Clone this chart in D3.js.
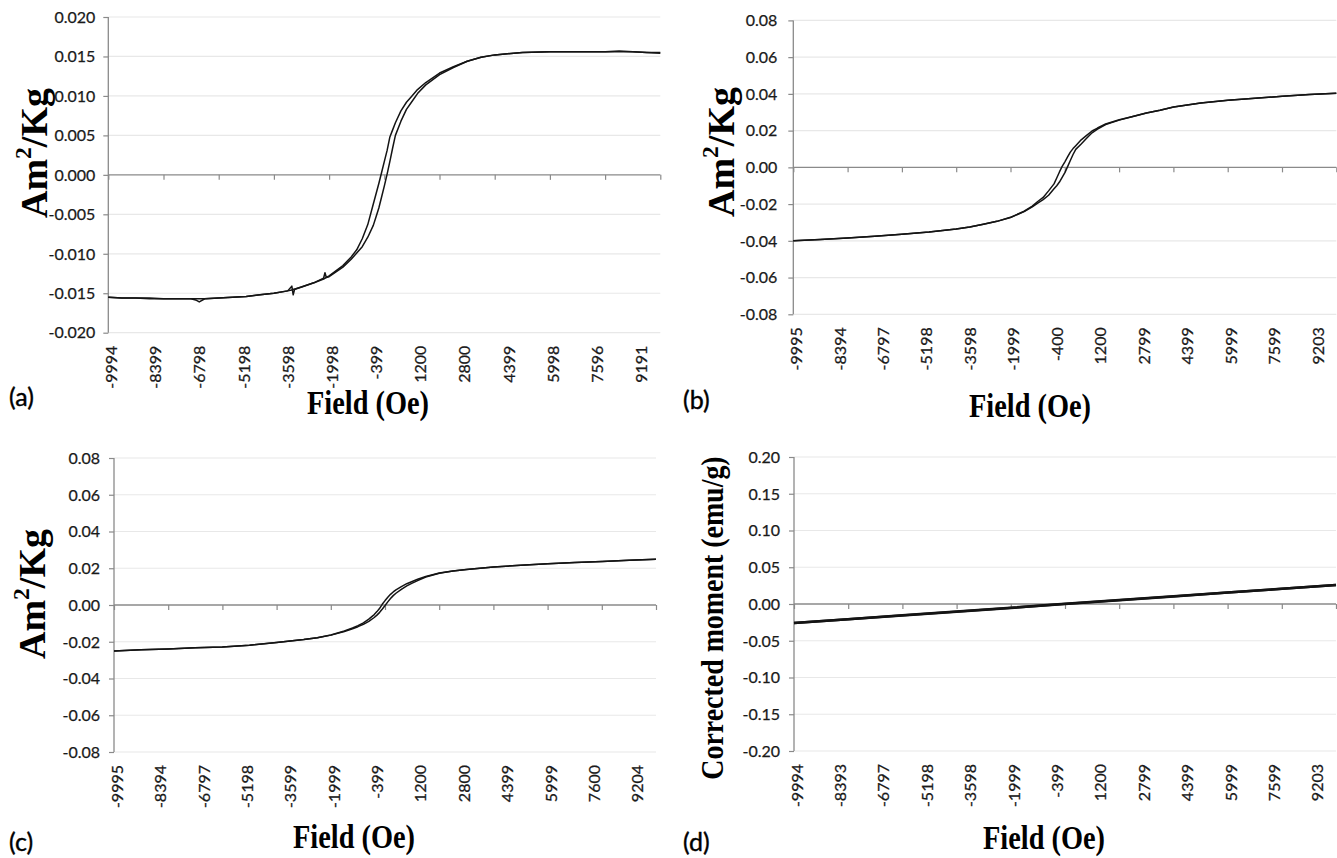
<!DOCTYPE html>
<html>
<head>
<meta charset="utf-8">
<script src="https://cdn.jsdelivr.net/npm/d3@7"></script>
<style>
  html, body { margin: 0; padding: 0; background: #fff; }
  svg { display: block; }
  .tick-label { font-family: Lato, "Liberation Sans", sans-serif; font-size: 16px; fill: #1a1a1a; stroke: #1a1a1a; stroke-width: 0.25px; }
  .axis-title { font-family: "Liberation Serif", "Times New Roman", serif; font-weight: bold; fill: #000; }
  .panel-tag { font-family: Lato, "Liberation Sans", sans-serif; font-size: 25px; fill: #000; stroke: #000; stroke-width: 0.4px; }
</style>
</head>
<body>
<svg id="fig" width="1337" height="858"></svg>
<script>
// ---------------- Panel (a) ----------------
const fieldA = [-9994, -9500, -9000, -8500, -8000, -7500, -7000, -6800, -6700, -6500, -6000, -5500, -5000, -4500,
  -4000, -3500, -3350, -3300, -3250, -3000, -2500, -2200, -2150, -2100, -2000, -1500, -1200, -1000, -800, -600,
  -400, -300, -200, -100, 0, 100, 200, 300, 400, 600, 800, 1000, 1200, 1500, 2000, 2500, 3000, 3500, 4000,
  5000, 6000, 7000, 8000, 8500, 9000, 9500, 9990];
const descA = [-0.0155, -0.0156, -0.0156, -0.0157, -0.0157, -0.0157, -0.0157, -0.0157, -0.0157, -0.0157, -0.0156,
  -0.0155, -0.0154, -0.0152, -0.0150, -0.0147, -0.0146, -0.0145, -0.0145, -0.0142, -0.0136, -0.0132, -0.0131,
  -0.0130, -0.0128, -0.0115, -0.0104, -0.0095, -0.0081, -0.0063, -0.0037, -0.0024, -0.0011, 0.0003, 0.0017,
  0.0031, 0.0048, 0.0057, 0.0066, 0.0081, 0.0092, 0.0100, 0.0108, 0.0117, 0.0129, 0.0137, 0.0144, 0.0149,
  0.0152, 0.0155, 0.0156, 0.0156, 0.0156, 0.0156, 0.0156, 0.0155, 0.0155];
const ascA = [-0.0155, -0.0156, -0.0156, -0.0156, -0.0157, -0.0157, -0.0157, -0.0159, -0.0161, -0.0157, -0.0156,
  -0.0155, -0.0154, -0.0152, -0.0150, -0.0147, -0.0141, -0.0152, -0.0145, -0.0142, -0.0136, -0.0131, -0.0124,
  -0.0130, -0.0129, -0.0117, -0.0107, -0.0099, -0.0091, -0.0079, -0.0064, -0.0053, -0.0042, -0.0028, -0.0014,
  0.0001, 0.0017, 0.0034, 0.0050, 0.0068, 0.0083, 0.0093, 0.0103, 0.0114, 0.0127, 0.0136, 0.0144, 0.0149,
  0.0152, 0.0155, 0.0156, 0.0156, 0.0156, 0.0157, 0.0156, 0.0155, 0.0154];
const xLabelsA = [-9994, -8399, -6798, -5198, -3598, -1998, -399, 1200, 2800, 4399, 5998, 7596, 9191];
const yTicksA = [-0.020, -0.015, -0.010, -0.005, 0, 0.005, 0.010, 0.015, 0.020];

// ---------------- Panel (b) ----------------
const fieldB = [-9995, -9000, -8000, -7000, -6000, -5000, -4000, -3500, -3000, -2500, -2000, -1500, -1200, -1000,
  -800, -600, -400, -300, -200, -100, 0, 100, 200, 300, 400, 600, 800, 1000, 1200, 1500, 2000, 2500, 3000,
  3500, 4000, 5000, 6000, 7000, 8000, 9000, 9989];
const descB = [-0.0400, -0.0393, -0.0385, -0.0375, -0.0364, -0.0352, -0.0336, -0.0325, -0.0310, -0.0294, -0.0272,
  -0.0239, -0.0211, -0.0186, -0.0164, -0.0128, -0.0090, -0.0058, -0.0025, 0.0005, 0.0030, 0.0057, 0.0083,
  0.0102, 0.0118, 0.0150, 0.0174, 0.0198, 0.0214, 0.0236, 0.0259, 0.0277, 0.0296, 0.0311, 0.0328, 0.0350,
  0.0365, 0.0376, 0.0387, 0.0396, 0.0404];
const ascB = [-0.0400, -0.0393, -0.0385, -0.0375, -0.0364, -0.0352, -0.0336, -0.0325, -0.0310, -0.0294, -0.0273,
  -0.0241, -0.0215, -0.0195, -0.0176, -0.0152, -0.0117, -0.0100, -0.0080, -0.0055, -0.0029, 0.0004, 0.0037,
  0.0070, 0.0098, 0.0127, 0.0158, 0.0188, 0.0208, 0.0233, 0.0257, 0.0277, 0.0296, 0.0311, 0.0328, 0.0350,
  0.0365, 0.0376, 0.0387, 0.0396, 0.0404];
const xLabelsB = [-9995, -8394, -6797, -5198, -3598, -1999, -400, 1200, 2799, 4399, 5999, 7599, 9203];
const yTicksB = [-0.08, -0.06, -0.04, -0.02, 0, 0.02, 0.04, 0.06, 0.08];

// ---------------- Panel (c) ----------------
const fieldC = [-9995, -9000, -8000, -7000, -6000, -5000, -4000, -3000, -2500, -2000, -1500, -1200, -1000, -800,
  -600, -400, -300, -200, -100, 0, 100, 200, 300, 400, 600, 800, 1000, 1200, 1500, 2000, 2500, 3000, 4000,
  5000, 6000, 7000, 8000, 9000, 9989];
const descC = [-0.0250, -0.0244, -0.0239, -0.0233, -0.0228, -0.0219, -0.0204, -0.0188, -0.0178, -0.0163, -0.0141,
  -0.0125, -0.0112, -0.0097, -0.0077, -0.0052, -0.0036, -0.0018, 0.0005, 0.0024, 0.0042, 0.0058, 0.0071,
  0.0082, 0.0100, 0.0116, 0.0128, 0.0140, 0.0155, 0.0174, 0.0185, 0.0193, 0.0207, 0.0216, 0.0224, 0.0231,
  0.0237, 0.0243, 0.0249];
const ascC = [-0.0250, -0.0244, -0.0239, -0.0233, -0.0228, -0.0219, -0.0204, -0.0188, -0.0178, -0.0164, -0.0144,
  -0.0129, -0.0118, -0.0105, -0.0089, -0.0068, -0.0055, -0.0040, -0.0022, -0.0003, 0.0017, 0.0035, 0.0051,
  0.0064, 0.0085, 0.0104, 0.0119, 0.0133, 0.0152, 0.0173, 0.0185, 0.0193, 0.0207, 0.0216, 0.0224, 0.0231,
  0.0237, 0.0243, 0.0249];
const xLabelsC = [-9995, -8394, -6797, -5198, -3599, -1999, -399, 1200, 2800, 4399, 5999, 7600, 9204];
const yTicksC = [-0.08, -0.06, -0.04, -0.02, 0, 0.02, 0.04, 0.06, 0.08];

// ---------------- Panel (d) ----------------
const fieldD = [-9994, -8000, -6000, -4000, -2000, 0, 2000, 4000, 6000, 8000, 9990];
const descD = [-0.0257, -0.0206, -0.0154, -0.0103, -0.0051, 0.0002, 0.0053, 0.0105, 0.0157, 0.0208, 0.0259];
const ascD = [-0.0259, -0.0208, -0.0156, -0.0105, -0.0053, 0.0000, 0.0051, 0.0103, 0.0155, 0.0206, 0.0257];
const xLabelsD = [-9994, -8393, -6797, -5198, -3598, -1999, -399, 1200, 2799, 4399, 5999, 7599, 9203];
const yTicksD = [-0.20, -0.15, -0.10, -0.05, 0, 0.05, 0.10, 0.15, 0.20];

// Field spacing between category tick marks on every horizontal axis
const TICK_STEP = 1998.4;
const TICK_COUNT = 10;

const locale = d3.formatLocale({ decimal: ".", thousands: ",", grouping: [3], currency: ["", ""], minus: "-" });

// Layout and styling of each panel
const panels = [
  { tag: "(a)", field: fieldA, branches: [descA, ascA], xLabels: xLabelsA, yTicks: yTicksA, fmt: ".3f",
    box: { left: 108.3, right: 660.3, top: 17, bottom: 332.7 }, yLabelGap: 13,
    yTitle: "am", yTitleX: 47, yTitleY: 153, yTitleSize: 38, yTitleStretch: 1,
    xTitleX: 368, xTitleY: 414, tagX: 9, tagY: 406, lineWidth: 1.5 },
  { tag: "(b)", field: fieldB, branches: [descB, ascB], xLabels: xLabelsB, yTicks: yTicksB, fmt: ".2f",
    box: { left: 793.3, right: 1336.3, top: 20.4, bottom: 314.3 }, yLabelGap: 16,
    yTitle: "am", yTitleX: 734, yTitleY: 152, yTitleSize: 38, yTitleStretch: 1,
    xTitleX: 1030, xTitleY: 417, tagX: 683, tagY: 409, lineWidth: 1.5 },
  { tag: "(c)", field: fieldC, branches: [descC, ascC], xLabels: xLabelsC, yTicks: yTicksC, fmt: ".2f",
    box: { left: 114, right: 656, top: 458, bottom: 752 }, yLabelGap: 14,
    yTitle: "am", yTitleX: 45, yTitleY: 594, yTitleSize: 38, yTitleStretch: 1,
    xTitleX: 354, xTitleY: 848, tagX: 9, tagY: 851, lineWidth: 1.5 },
  { tag: "(d)", field: fieldD, branches: [descD, ascD], xLabels: xLabelsD, yTicks: yTicksD, fmt: ".2f",
    box: { left: 794, right: 1336, top: 457, bottom: 751 }, yLabelGap: 14,
    yTitle: "Corrected moment (emu/g)", yTitleX: 723, yTitleY: 618, yTitleSize: 31, yTitleStretch: 0.9,
    xTitleX: 1044, xTitleY: 849, tagX: 683, tagY: 851, lineWidth: 2.5 }
];

const svg = d3.select("#fig");
const AXIS_COLOR = "#8a8a8a";
const GRID_COLOR = "#e8e8e8";

panels.forEach(p => {
  const b = p.box;
  const xMin = p.xLabels[0];
  const x = d3.scaleLinear().domain([xMin, xMin + TICK_STEP * TICK_COUNT]).range([b.left, b.right]);
  const y = d3.scaleLinear().domain(d3.extent(p.yTicks)).range([b.bottom, b.top]);
  const g = svg.append("g");
  const fmt = locale.format(p.fmt);

  // horizontal gridlines
  g.selectAll(".grid").data(p.yTicks.filter(t => t !== 0)).enter().append("line")
    .attr("x1", b.left).attr("x2", b.right)
    .attr("y1", d => y(d)).attr("y2", d => y(d))
    .attr("stroke", GRID_COLOR).attr("stroke-width", 1.2);

  // vertical axis with outward ticks
  const yAxis = d3.axisLeft(y).tickValues(p.yTicks).tickSize(5).tickFormat("");
  const ya = g.append("g").attr("transform", `translate(${b.left},0)`).call(yAxis);
  ya.select(".domain").attr("stroke", AXIS_COLOR).attr("stroke-width", 1.3).attr("d", `M0,${b.top}V${b.bottom}`);
  ya.selectAll(".tick line").attr("stroke", AXIS_COLOR).attr("stroke-width", 1.2);

  // y tick labels
  g.selectAll(".ylab").data(p.yTicks).enter().append("text")
    .attr("class", "tick-label")
    .attr("x", b.left - p.yLabelGap).attr("y", d => y(d)).attr("dy", "0.36em")
    .attr("text-anchor", "end").text(d => fmt(d));

  // horizontal axis along zero with ticks hanging below
  const tickVals = d3.range(TICK_COUNT + 1).map(i => xMin + i * TICK_STEP);
  const xAxis = d3.axisBottom(x).tickValues(tickVals).tickSize(5).tickFormat("");
  const xa = g.append("g").attr("transform", `translate(0,${y(0)})`).call(xAxis);
  xa.select(".domain").attr("stroke", AXIS_COLOR).attr("stroke-width", 1.3).attr("d", `M${b.left},0H${b.right}`);
  xa.selectAll(".tick line").attr("stroke", AXIS_COLOR).attr("stroke-width", 1.2);

  // rotated category labels under the plot
  g.selectAll(".xlab").data(p.xLabels).enter().append("text")
    .attr("class", "tick-label")
    .attr("transform", d => `translate(${x(d) + 3},${b.bottom + 13}) rotate(-90)`)
    .attr("dy", "0.36em").attr("text-anchor", "end")
    .text(d => String(d));

  // magnetisation branches
  const line = d3.line().x((d, i) => x(p.field[i])).y(d => y(d));
  p.branches.forEach(br => {
    g.append("path").datum(br)
      .attr("d", line)
      .attr("fill", "none").attr("stroke", "#141414")
      .attr("stroke-width", p.lineWidth).attr("stroke-linejoin", "round");
  });

  // y axis title
  const yt = g.append("text").attr("class", "axis-title")
    .attr("transform", `translate(${p.yTitleX},${p.yTitleY}) rotate(-90) scale(${p.yTitleStretch},1)`)
    .attr("text-anchor", "middle").style("font-size", p.yTitleSize + "px");
  if (p.yTitle === "am") {
    yt.append("tspan").text("Am");
    yt.append("tspan").attr("dy", -p.yTitleSize * 0.42).style("font-size", (p.yTitleSize * 0.62) + "px").text("2");
    yt.append("tspan").attr("dy", p.yTitleSize * 0.42).text("/Kg");
  } else {
    yt.text(p.yTitle);
  }

  // x axis title
  g.append("text").attr("class", "axis-title")
    .attr("transform", `translate(${p.xTitleX},${p.xTitleY}) scale(0.86,1)`)
    .attr("text-anchor", "middle").style("font-size", "33px")
    .text("Field (Oe)");

  // panel tag
  g.append("text").attr("class", "panel-tag")
    .attr("x", p.tagX).attr("y", p.tagY).text(p.tag);
});
</script>
</body>
</html>
